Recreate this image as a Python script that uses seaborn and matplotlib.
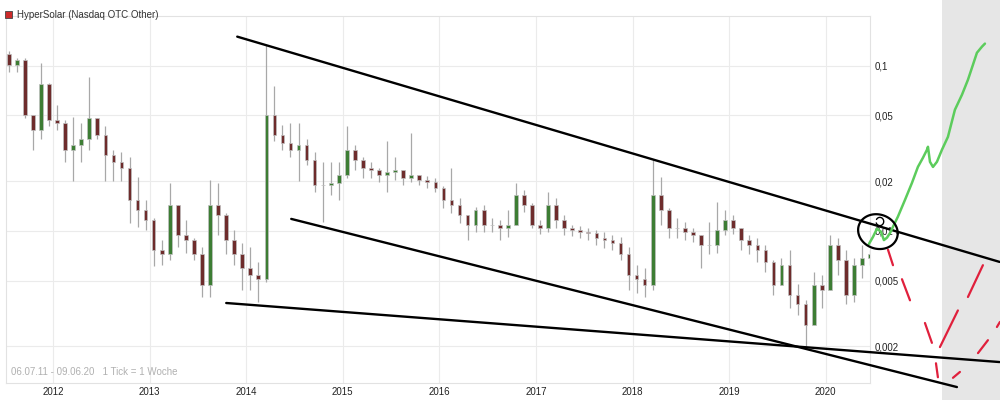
import numpy as np
import pandas as pd
import matplotlib
matplotlib.use('Agg')
import matplotlib.pyplot as plt
from matplotlib.patches import Rectangle
import seaborn as sns

# monthly OHLC, Jul 2011 .. Jun 2020
start_year = 2011.5
first_open = 0.117
close = [0.101, 0.109, 0.050, 0.041, 0.077, 0.047,
         0.045, 0.031, 0.033, 0.036, 0.048, 0.038, 0.029, 0.026, 0.024, 0.0154, 0.0134, 0.0117,
         0.0077, 0.0072, 0.0144, 0.0095, 0.0088, 0.0072, 0.0047, 0.0144, 0.0125, 0.0088, 0.0072, 0.0060,
         0.0054, 0.0051, 0.0505, 0.038, 0.034, 0.031, 0.033, 0.027, 0.019, 0.019, 0.0195, 0.0218,
         0.031, 0.027, 0.024, 0.0234, 0.0218, 0.0228, 0.0234, 0.021, 0.0218, 0.0204, 0.0198, 0.0182,
         0.0154, 0.0144, 0.0125, 0.0109, 0.0134, 0.0109, 0.0109, 0.0104, 0.0109, 0.0165, 0.0144, 0.0109,
         0.0104, 0.0144, 0.0117, 0.0104, 0.0101, 0.0099, 0.0097, 0.0091, 0.0088, 0.0085, 0.0072, 0.0054,
         0.0051, 0.0047, 0.0165, 0.0134, 0.0104, 0.0104, 0.0099, 0.0095, 0.0082, 0.0082, 0.0101, 0.0117,
         0.0104, 0.0088, 0.0082, 0.0077, 0.0065, 0.0047, 0.0062, 0.0041, 0.0036, 0.0027, 0.0047, 0.0044,
         0.0082, 0.0067, 0.0041, 0.0062, 0.0069, 0.0072]
high = [0.122, 0.112, 0.112, 0.047, 0.104, 0.079,
        0.058, 0.047, 0.049, 0.045, 0.086, 0.048, 0.043, 0.031, 0.030, 0.028, 0.0212, 0.0154,
        0.012, 0.0088, 0.0195, 0.0144, 0.0117, 0.0091, 0.0080, 0.0204, 0.0195, 0.0129, 0.0101, 0.0085,
        0.0080, 0.0065, 0.134, 0.075, 0.044, 0.045, 0.045, 0.036, 0.030, 0.026, 0.026, 0.026,
        0.043, 0.033, 0.028, 0.026, 0.024, 0.035, 0.028, 0.0228, 0.039, 0.0218, 0.0215, 0.021,
        0.0187, 0.024, 0.0158, 0.0125, 0.014, 0.0144, 0.012, 0.0117, 0.0134, 0.0195, 0.0177, 0.0148,
        0.0117, 0.0172, 0.0158, 0.0125, 0.0109, 0.0107, 0.0104, 0.0101, 0.0099, 0.0095, 0.0092, 0.0080,
        0.0062, 0.0060, 0.0269, 0.0212, 0.0138, 0.012, 0.0113, 0.0104, 0.0095, 0.0113, 0.015, 0.0134,
        0.0125, 0.0104, 0.0095, 0.0091, 0.0082, 0.0067, 0.0069, 0.0077, 0.0048, 0.0038, 0.0056, 0.0054,
        0.0095, 0.0091, 0.0077, 0.0069, 0.0082, 0.0077]
low = [0.091, 0.091, 0.048, 0.031, 0.036, 0.043,
       0.041, 0.026, 0.020, 0.026, 0.031, 0.036, 0.020, 0.020, 0.020, 0.0112, 0.0106, 0.0101,
       0.0061, 0.0062, 0.0067, 0.0080, 0.0074, 0.0067, 0.0040, 0.0040, 0.0095, 0.0072, 0.0062, 0.0044,
       0.0044, 0.0037, 0.0049, 0.035, 0.031, 0.028, 0.020, 0.025, 0.0172, 0.0113, 0.0165, 0.0154,
       0.021, 0.0234, 0.021, 0.021, 0.0198, 0.0172, 0.0204, 0.019, 0.0198, 0.019, 0.0182, 0.0172,
       0.0138, 0.0129, 0.0112, 0.0088, 0.0099, 0.0099, 0.0099, 0.0088, 0.0092, 0.0109, 0.013, 0.0104,
       0.0096, 0.0099, 0.0104, 0.0095, 0.0093, 0.0091, 0.0088, 0.0082, 0.0079, 0.0077, 0.0067, 0.0044,
       0.0042, 0.0040, 0.0044, 0.0109, 0.0091, 0.0091, 0.0088, 0.0086, 0.0060, 0.0072, 0.0074, 0.0095,
       0.0096, 0.0077, 0.0072, 0.0065, 0.0056, 0.0041, 0.0047, 0.0034, 0.0031, 0.0020, 0.0031, 0.0034,
       0.0044, 0.0054, 0.0036, 0.0037, 0.0052, 0.0062]

year_ticks = [2012, 2013, 2014, 2015, 2016, 2017, 2018, 2019, 2020]
price_ticks = [0.002, 0.005, 0.01, 0.02, 0.05, 0.1]
price_labels = ['0,002', '0,005', '0,01', '0,02', '0,05', '0,1']

# hand-drawn markup on the screenshot (decimal year, price)
trend_upper = ([2013.907, 2021.80], [0.150, 0.00649])
trend_mid = ([2014.466, 2021.358], [0.01182, 0.001134])
trend_low = ([2013.793, 2021.80], [0.00366, 0.001607])
green_x = [2020.447, 2020.489, 2020.530, 2020.571, 2020.602, 2020.634, 2020.665, 2020.696,
           2020.747, 2020.820, 2020.892, 2020.954, 2021.006, 2021.048, 2021.058, 2021.079,
           2021.110, 2021.151, 2021.203, 2021.265, 2021.337, 2021.410, 2021.472, 2021.524,
           2021.565, 2021.617, 2021.648]
green_y = [0.00834, 0.0092, 0.0103, 0.0099, 0.0088, 0.0091, 0.0097, 0.0106,
           0.0122, 0.0154, 0.0195, 0.0244, 0.0277, 0.0310, 0.0323, 0.0262,
           0.0244, 0.0262, 0.0310, 0.0371, 0.0541, 0.0667, 0.0822, 0.1014,
           0.1198, 0.1304, 0.1361]
red_dashes = [
    ([2020.644, 2020.696], [0.0077, 0.0062]),
    ([2020.789, 2020.872], [0.0051, 0.0038]),
    ([2021.027, 2021.099], [0.00277, 0.0021]),
    ([2021.141, 2021.161], [0.00158, 0.0013]),
    ([2021.182, 2021.368], [0.00198, 0.0033]),
    ([2021.472, 2021.627], [0.00398, 0.0062]),
    ([2021.317, 2021.389], [0.00129, 0.0014]),
    ([2021.576, 2021.679], [0.00182, 0.00218]),
    ([2021.772, 2021.803], [0.00262, 0.00281]),
]
circle_center = (2020.540, 0.0099)

df = pd.DataFrame({'close': close, 'high': high, 'low': low})
df['open'] = [first_open] + close[:-1]
df['t'] = start_year + (np.arange(len(df)) + 0.5) / 12
df['up'] = df['close'] >= df['open']

sns.set_theme(style='white')
plt.rcParams['font.family'] = ['Liberation Sans', 'DejaVu Sans']

fig = plt.figure(figsize=(10, 4), dpi=100)
fig.add_artist(Rectangle((0.942, 0), 0.058, 1, transform=fig.transFigure,
                         facecolor='#e6e6e6', edgecolor='none', zorder=-5))
ax = fig.add_axes([0.006, 0.0425, 0.864, 0.9175])
ax.set_yscale('log')
ax.set_xlim(2011.513, 2020.458)
ax.set_ylim(0.0012, 0.2)

# candles
ax.vlines(df['t'], df['low'], df['high'], color='#a8a8a8', lw=0.9, zorder=2)
body_lo = np.minimum(df['open'], df['close'])
body_h = np.abs(df['close'] - df['open'])
colors = np.where(df['up'], '#3d7d34', '#6e2c2c')
ax.bar(df['t'], body_h, bottom=body_lo, width=0.038, color=colors,
       edgecolor='#c0c0c0', linewidth=0.5, zorder=3)

ax.set_xticks(year_ticks)
ax.set_xticklabels([str(y) for y in year_ticks])
ax.set_yticks(price_ticks)
ax.set_yticklabels(price_labels)
ax.yaxis.set_minor_locator(matplotlib.ticker.NullLocator())
ax.yaxis.tick_right()
ax.tick_params(axis='both', length=0, labelsize=7, colors='#222222', pad=3)
ax.grid(True, color='#ebebeb', lw=0.8)
for s in ax.spines.values():
    s.set_color('#e2e2e2')
    s.set_linewidth(0.8)

ax.text(0.006, 0.022, '06.07.11 - 09.06.20   1 Tick = 1 Woche', transform=ax.transAxes,
        fontsize=7, color='#b0b0b0')

# markup
for xs, ys in [trend_upper, trend_mid, trend_low]:
    ax.plot(xs, ys, color='black', lw=1.7, clip_on=False, zorder=6)
sns.lineplot(x=green_x, y=green_y, ax=ax, color='#5ccc5c', lw=1.8, sort=False,
             estimator=None, clip_on=False, zorder=7)
for xs, ys in red_dashes:
    ax.plot(xs, ys, color='#e0203c', lw=1.6, clip_on=False, zorder=7, solid_capstyle='round')
th = np.linspace(0, 2 * np.pi, 100)
ax.plot(circle_center[0] + 0.205 * np.cos(th),
        circle_center[1] * 10 ** (0.105 * np.sin(th) - 0.01 * np.cos(th)),
        color='black', lw=1.6, clip_on=False, zorder=8)
th2 = np.linspace(np.radians(150), np.radians(-160), 30)
ax.plot(2020.56 + 0.04 * np.cos(th2), 0.0114 * 10 ** (0.025 * np.sin(th2)),
        color='black', lw=1.0, clip_on=False, zorder=8)

# header
fig.add_artist(Rectangle((0.005, 0.955), 0.007, 0.0175, transform=fig.transFigure,
                         facecolor='#cc2a2a', edgecolor='#444444', lw=0.6))
fig.text(0.017, 0.963, 'HyperSolar (Nasdaq OTC Other)', fontsize=7, color='#333333',
         va='center')

fig.savefig('out.png', dpi=100)
